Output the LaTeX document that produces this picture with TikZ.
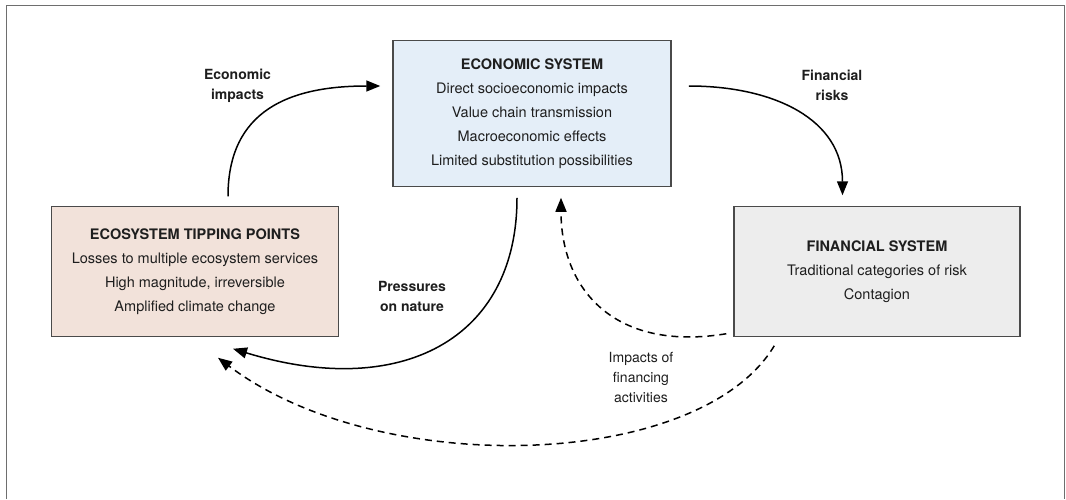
\documentclass[tikz,border=0pt]{standalone}
\usepackage{fontspec}
\setmainfont{TeX Gyre Heros}
\usetikzlibrary{arrows.meta}
\definecolor{econfill}{HTML}{E4EEF8}
\definecolor{ecofill}{HTML}{F2E2DA}
\definecolor{finfill}{HTML}{EDEDED}
\definecolor{boxline}{HTML}{4A4A4A}
\definecolor{frameline}{HTML}{6E6E6E}
\definecolor{txt}{HTML}{1E1E1E}
\tikzset{
  sysbox/.style={draw=boxline, line width=1.5pt, align=center, inner sep=0pt,
    text=txt, font=\fontsize{14.5}{24}\selectfont},
  lbl/.style={align=center, text=txt, inner sep=0pt, font=\fontsize{14}{20}\selectfont\bfseries},
  lblreg/.style={align=center, text=txt, inner sep=0pt, font=\fontsize{14}{20}\selectfont},
  flow/.style={line width=1.5pt, -{Triangle[length=14pt,width=11pt]}},
  dflow/.style={flow, dash pattern=on 7pt off 5pt}
}
\begin{document}
\begin{tikzpicture}[x=1pt,y=-1pt]
\useasboundingbox (0,0) rectangle (1066,499);
\draw[frameline, line width=1.5pt] (6.7,499) -- (6.7,5.3) -- (1064.3,5.3) -- (1064.3,499);

\node[sysbox, fill=econfill, minimum width=278pt, minimum height=146pt] (econ) at (532,113.7)
  {\textbf{ECONOMIC SYSTEM}\\Direct socioeconomic impacts\\Value chain transmission\\Macroeconomic effects\\Limited substitution possibilities};
\node[sysbox, fill=ecofill, minimum width=286.6pt, minimum height=130pt] (eco) at (195,271.7)
  {\textbf{ECOSYSTEM TIPPING POINTS}\\Losses to multiple ecosystem services\\High magnitude, irreversible\\Amplified climate change};
\node[sysbox, fill=finfill, minimum width=286pt, minimum height=130pt] (fin) at (877,271.7)
  {\textbf{FINANCIAL SYSTEM}\\Traditional categories of risk\\Contagion};

\node[lbl] (lecon) at (237.5,85.5) {Economic\\impacts};
\node[lbl] (lfin) at (832,85.5) {Financial\\risks};
\node[lbl] (lpress) at (412,296) {Pressures\\on nature};
\node[lblreg] (limp) at (641,377) {Impacts of\\financing\\activities};

% Economic impacts
\draw[flow] ([xshift=33pt,yshift=9.7pt]eco.north) .. controls (228,110) and (290,86) .. ([xshift=-12pt,yshift=27.7pt]econ.west);
% Financial risks
\draw[flow] ([xshift=17pt,yshift=27.7pt]econ.east) .. controls (775,86) and (842.5,120) .. ([xshift=-34.5pt,yshift=10.7pt]fin.north);
% Pressures on nature
\draw[flow] ([xshift=-15pt,yshift=-10.3pt]econ.south) .. controls (517,340) and (400,400) .. ([xshift=38pt,yshift=-11.3pt]eco.south);
% Financial -> economic (dashed)
\draw[dflow] ([xshift=-7pt,yshift=3.7pt]fin.south west) .. controls (615,352) and (561,290) .. ([xshift=29pt,yshift=-10.3pt]econ.south);
% Impacts of financing activities (dashed)
\draw[dflow] ([xshift=41pt,yshift=-8.3pt]fin.south west) .. controls (700,470) and (380,480) .. ([xshift=23pt,yshift=-20.3pt]eco.south);
\end{tikzpicture}
\end{document}
